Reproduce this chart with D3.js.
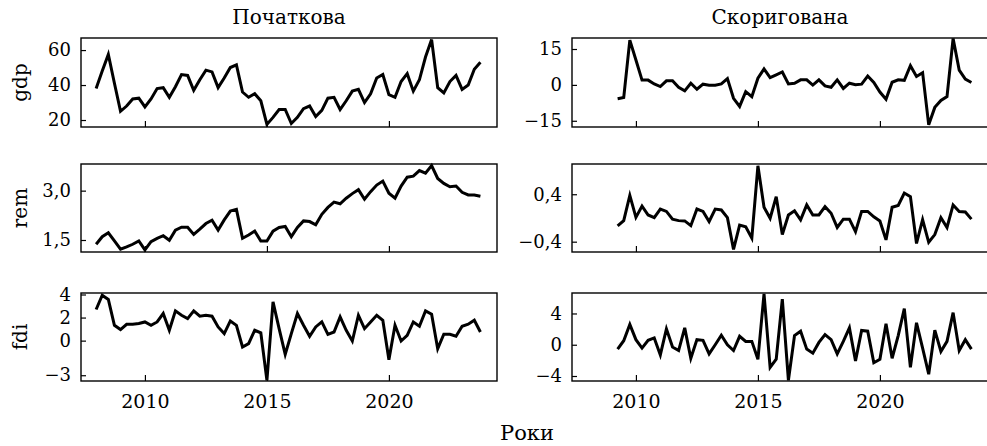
<!DOCTYPE html>
<html><head><meta charset="utf-8">
<script src="https://cdn.jsdelivr.net/npm/d3@7"></script>
<style>
html,body{margin:0;padding:0;background:#fff;}
svg{display:block;font-family:"DejaVu Serif","Liberation Serif",serif;}
</style></head>
<body><svg id="c" width="987" height="446"></svg>
<script>
// ---- data ----
const startRaw = 2008.0;   // quarterly, 2008Q1..2023Q4
const startAdj = 2009.25;  // quarterly, 2009Q2..2023Q4
const colTitles = ["Початкова", "Скоригована"];
const rowLabels = ["gdp", "rem", "fdi"];
const xTicks = [2010, 2015, 2020];
const xTickLabels = ["2010", "2015", "2020"];
const xLabel = "Роки";

const gdpRaw = [38,48,57.5,41,25,28,32,32.5,27.5,32,38,38.5,33,39,46,45.5,37,43,48.5,47.5,38.5,44,50,51.5,36,33,35,31,17.5,21.5,26,26,18,21.5,26.5,28,22,25.5,32.5,33,26,31,36.5,37.5,30,35,44,46,34.5,33,42,46.5,36.5,43,56,66,38.5,35.5,42,45.5,37.5,40,49,53];
const gdpAdj = [-5.8,-5.3,18.7,10.4,2,2,0.4,-0.7,1.7,1.7,-1,-2.5,0.7,-1.8,0.3,-0.1,-0.1,0.4,2.6,-5.6,-9,-2.8,-4.9,2.8,6.7,3,4.2,5.4,0.4,0.7,2.1,2.1,-0.1,2.1,-0.4,-1,2.1,-1.5,0.7,0.1,0.3,3.7,1,-3,-6,1.1,2.1,1.9,8,3.5,5.1,-16.7,-9.4,-6.5,-4.9,19.4,6.2,2.4,1];
const remRaw = [1.37,1.6,1.72,1.47,1.22,1.29,1.37,1.47,1.2,1.45,1.55,1.63,1.49,1.8,1.89,1.89,1.67,1.83,2.0,2.1,1.8,2.11,2.38,2.43,1.55,1.65,1.77,1.47,1.47,1.77,1.88,1.91,1.6,1.88,2.08,2.06,1.96,2.28,2.49,2.65,2.6,2.77,2.91,3.03,2.74,2.97,3.17,3.29,2.92,2.77,3.14,3.41,3.44,3.61,3.53,3.76,3.37,3.22,3.12,3.14,2.95,2.87,2.87,2.83];
const remAdj = [-0.135,-0.045,0.38,0.01,0.2,0.05,0.005,0.15,0.11,-0.02,-0.045,-0.05,-0.13,0.15,0.11,-0.06,0.15,0.135,0.005,-0.53,-0.12,-0.15,-0.34,0.88,0.18,-0.005,0.36,-0.28,0.05,0.12,-0.03,0.22,0.05,0.05,0.19,0.08,-0.16,-0.02,-0.02,-0.23,0.11,0.11,0.02,-0.05,-0.37,0.18,0.21,0.42,0.36,-0.43,-0.03,-0.41,-0.28,0.005,-0.16,0.22,0.11,0.1,-0.02];
const fdiRaw = [2.7,3.94,3.57,1.33,0.96,1.42,1.42,1.48,1.62,1.33,1.62,2.35,0.9,2.58,2.2,1.91,2.58,2.12,2.2,2.12,1.19,0.61,1.71,1.33,-0.55,-0.26,0.9,0.67,-3.45,3.36,1.04,-1.19,0.61,2.35,1.33,0.38,1.19,1.62,0.55,0.75,2.06,0.9,-0.03,2.2,1.04,1.62,2.2,1.77,-1.65,1.33,-0.03,0.46,1.62,1.25,2.58,2.29,-0.7,0.55,0.55,0.38,1.25,1.42,1.77,0.75];
const fdiAdj = [-0.56,0.52,2.6,0.65,-0.43,0.56,0.87,-1.3,2.03,-0.3,-0.74,2.16,-1.73,0.65,0.56,-1.17,0,1.21,0,-0.74,1.08,0.43,0.43,-1.86,6.5,-2.9,-1.86,5.84,-4.55,1.17,1.73,-0.56,-1.08,0.3,1.3,0.65,-1.17,0.43,2.16,-2.08,1.82,1.73,-2.3,-1.86,2.68,-1.73,1.17,4.63,-2.9,2.81,-0.43,-3.77,1.86,-0.87,0.43,4.11,-0.74,0.65,-0.56];

const yTicksGrid = [
  [[20,40,60],[-15,0,15]],
  [[1.5,3.0],[-0.4,0.4]],
  [[-3,0,2,4],[-4,0,4]]
];
const yTickLabelsGrid = [
  [["20","40","60"],["−15","0","15"]],
  [["1,5","3,0"],["−0,4","0,4"]],
  [["−3","0","2","4"],["−4","0","4"]]
];
const yDomains = [
  [[16,66.9],[-17.6,19.6]],
  [[1.135,3.81],[-0.574,0.91]],
  [[-3.5,4.13],[-4.64,6.62]]
];
const seriesGrid = [[gdpRaw,gdpAdj],[remRaw,remAdj],[fdiRaw,fdiAdj]];
const starts = [startRaw, startAdj];

// ---- layout ----
const FONT = "DejaVu Serif";
const colX = [81, 572], panelW = 416;
const rowY = [[38,127],[164,252],[293,381]];
const svg = d3.select("#c");
const x = d3.scaleLinear().domain([2007.38, 2024.43]).range([0, panelW]);

for (let r = 0; r < 3; r++) {
  for (let c = 0; c < 2; c++) {
    const [top, bot] = rowY[r];
    const h = bot - top;
    const g = svg.append("g").attr("transform", `translate(${colX[c]},${top})`);
    const y = d3.scaleLinear().domain(yDomains[r][c]).range([h, 0]);
    const vals = seriesGrid[r][c];
    const pts = vals.map((v, i) => [starts[c] + i * 0.25, v]);

    const clipId = `clip${r}${c}`;
    g.append("clipPath").attr("id", clipId).append("rect")
      .attr("x", 0).attr("y", -2).attr("width", panelW).attr("height", h + 4);

    g.append("path").datum(pts)
      .attr("clip-path", `url(#${clipId})`)
      .attr("fill", "none").attr("stroke", "#000").attr("stroke-width", 3)
      .attr("stroke-linejoin", "miter").attr("stroke-miterlimit", 4)
      .attr("d", d3.line().x(d => x(d[0])).y(d => y(d[1])));

    // y axis (ticks inward)
    const ya = d3.axisLeft(y).tickValues(yTicksGrid[r][c])
      .tickFormat((d, i) => yTickLabelsGrid[r][c][i])
      .tickSizeInner(-5).tickSizeOuter(0).tickPadding(10);
    const yg = g.append("g").call(ya);
    yg.select(".domain").remove();
    yg.selectAll("line").attr("stroke", "#000").attr("stroke-width", 1.2);
    yg.selectAll("text").attr("font-size", 18).attr("font-family", FONT).attr("fill", "#000");

    // x axis (ticks inward)
    const xa = d3.axisBottom(x).tickValues(xTicks)
      .tickFormat((d, i) => r === 2 ? xTickLabels[i] : "")
      .tickSizeInner(-6).tickSizeOuter(0).tickPadding(14);
    const xg = g.append("g").attr("transform", `translate(0,${h})`).call(xa);
    xg.select(".domain").remove();
    xg.selectAll("line").attr("stroke", "#000").attr("stroke-width", 1.2);
    xg.selectAll("text").attr("font-size", 19).attr("font-family", FONT).attr("fill", "#000");

    // frame
    g.append("rect").attr("x", 0).attr("y", 0).attr("width", panelW).attr("height", h)
      .attr("fill", "none").attr("stroke", "#000").attr("stroke-width", 1.4);

    if (c === 0) {
      svg.append("text")
        .attr("transform", `translate(21,${top + h / 2}) rotate(-90)`)
        .attr("text-anchor", "middle").attr("dominant-baseline", "middle")
        .attr("font-size", 20).attr("fill", "#000").text(rowLabels[r]);
    }
    if (r === 0) {
      svg.append("text").attr("x", colX[c] + panelW / 2).attr("y", 24)
        .attr("text-anchor", "middle").attr("font-size", 20).attr("fill", "#000")
        .text(colTitles[c]);
    }
  }
}
svg.append("text").attr("x", 527).attr("y", 440).attr("text-anchor", "middle")
  .attr("font-size", 21).attr("fill", "#000").text(xLabel);
</script></body></html>
